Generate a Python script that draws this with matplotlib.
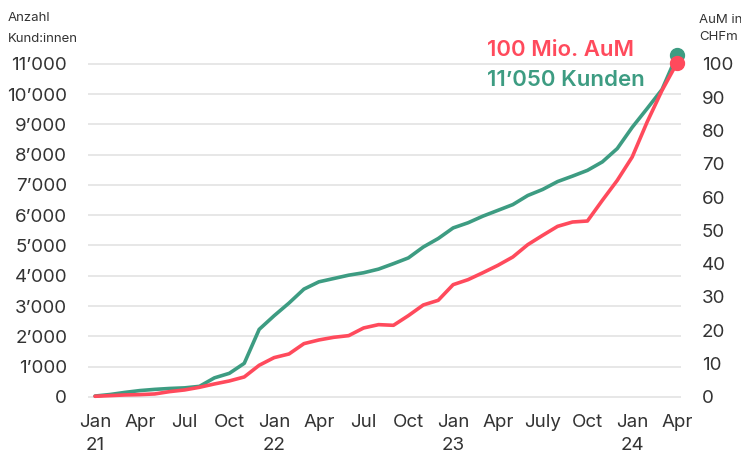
import matplotlib
matplotlib.use("Agg")
import matplotlib.pyplot as plt
from matplotlib.ticker import FuncFormatter

# ---- data ----
months = list(range(40))  # Jan 2021 .. Apr 2024
customers = [30, 80, 150, 210, 250, 280, 300, 350, 630, 780,
             1110, 2230, 2680, 3100, 3560, 3800, 3910, 4020, 4100, 4220,
             4400, 4590, 4950, 5230, 5580, 5750, 5970, 6160, 6350, 6650,
             6850, 7110, 7290, 7480, 7760, 8200, 8900, 9520, 10150, 11280]
aum = [0.2, 0.4, 0.6, 0.7, 0.9, 1.6, 2.1, 2.9, 3.9, 4.8,
       6.0, 9.5, 11.8, 12.9, 16.0, 17.1, 17.9, 18.4, 20.7, 21.7,
       21.5, 24.4, 27.6, 29.0, 33.7, 35.2, 37.3, 39.5, 42.0, 45.7,
       48.5, 51.2, 52.5, 52.8, 59.0, 65.0, 72.0, 82.5, 92.0, 100.2]
tick_pos = [0, 3, 6, 9, 12, 15, 18, 21, 24, 27, 30, 33, 36, 39]
tick_labels = ["Jan\n21", "Apr", "Jul", "Oct", "Jan\n22", "Apr", "Jul", "Oct",
               "Jan\n23", "Apr", "July", "Oct", "Jan\n24", "Apr"]
left_ticks = list(range(0, 12000, 1000))
right_ticks = list(range(0, 110, 10))

RED = "#FF4A5C"
GREEN = "#3D9C82"
TXT = "#333333"
GRID = "#E3E3E3"

plt.rcParams['font.family'] = ['Inter', 'DejaVu Sans']

fig = plt.figure(figsize=(7.41, 4.55), dpi=100)
ax = fig.add_axes([0.1188, 0.1176, 0.919 - 0.1188, 0.901 - 0.1176])
ax2 = ax.twinx()

ylim_top = 11617
ylim_bot = -150
ax.set_ylim(ylim_bot, ylim_top)
ax2.set_ylim(ylim_bot / 110, ylim_top / 110)
ax.set_xlim(-0.47, 39.27)

for y in left_ticks:
    ax.axhline(y, color=GRID, lw=1.2, zorder=0)

ax.plot(months, customers, color=GREEN, lw=2.6, solid_capstyle='round', zorder=3)
ax2.plot(months, aum, color=RED, lw=2.6, solid_capstyle='round', zorder=3)
ax.plot([months[-1]], [customers[-1]], 'o', color=GREEN, ms=10, clip_on=False, zorder=4)
ax2.plot([months[-1]], [aum[-1]], 'o', color=RED, ms=10, clip_on=False, zorder=5)

ax.set_yticks(left_ticks)
ax.yaxis.set_major_formatter(FuncFormatter(lambda v, p: f"{int(v):,}".replace(",", "\u2019")))
ax2.set_yticks(right_ticks)
ax.set_xticks(tick_pos)
ax.set_xticklabels(tick_labels)

for a in (ax, ax2):
    for s in a.spines.values():
        s.set_visible(False)
    a.tick_params(length=0, labelsize=13.5, labelcolor=TXT)
ax.tick_params(axis='y', pad=15)
ax2.tick_params(axis='y', pad=15)
ax.tick_params(axis='x', pad=9)
for lbl in ax.get_xticklabels():
    lbl.set_linespacing(1.45)
    lbl.set_verticalalignment('top')

fig.text(8 / 741, 1 - 18 / 455, "Anzahl", fontsize=9.5, color=TXT, va='center', ha='left')
fig.text(8 / 741, 1 - 39 / 455, "Kund:innen", fontsize=9.5, color=TXT, va='center', ha='left')
fig.text(699 / 741, 1 - 20 / 455, "AuM in", fontsize=9.5, color=TXT, va='center', ha='left')
fig.text(699 / 741, 1 - 37 / 455, "CHFm", fontsize=9.5, color=TXT, va='center', ha='left')
fig.text(487 / 741, 1 - 50 / 455, "100 Mio. AuM", fontsize=16, color=RED,
         fontweight='semibold', va='center', ha='left')
fig.text(487 / 741, 1 - 80 / 455, "11\u2019050 Kunden", fontsize=16, color=GREEN,
         fontweight='semibold', va='center', ha='left')

fig.savefig("out.png", dpi=100)
